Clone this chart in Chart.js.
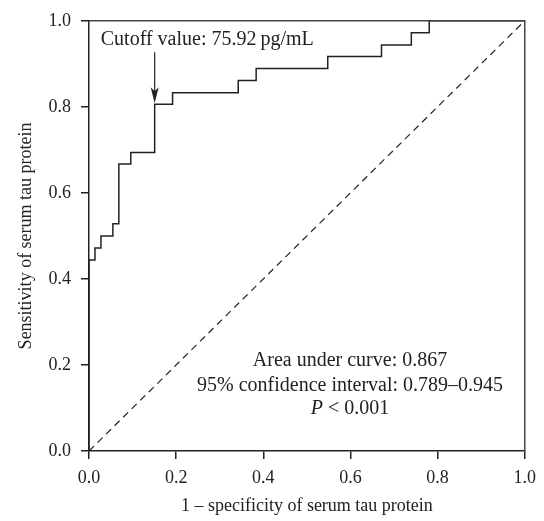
<!DOCTYPE html>
<html>
<head>
<meta charset="utf-8">
<script src="https://cdn.jsdelivr.net/npm/chart.js@4.4.1/dist/chart.umd.min.js"></script>
<style>
    html, body { margin: 0; padding: 0; background: #fff; }
    #wrap { width: 544px; height: 521px; }
</style>
</head>
<body>
<div id="wrap"><canvas id="roc"></canvas></div>
<script>
// ROC curve (1 - specificity, sensitivity)
const fpr = [0, 0, 0.0137, 0.0274, 0.0548, 0.0685, 0.0959, 0.1507, 0.1918,
             0.3425, 0.3836, 0.5479, 0.6712, 0.7397, 0.7808, 1];
const sens = [0, 0.444, 0.472, 0.500, 0.528, 0.667, 0.694, 0.806, 0.833,
              0.861, 0.889, 0.917, 0.944, 0.972, 1.0, 1.0];
const refLine = [0, 1];
const tickValues = [0, 0.2, 0.4, 0.6, 0.8, 1.0];

const cutoffX = 0.1507;
const cutoffY = 0.806;
const cutoffLabel = 'Cutoff value: 75.92\u2009pg/mL';
const statLines = ['Area under curve: 0.867', '95% confidence interval: 0.789\u20130.945'];
const pLine = ' < 0.001';

const ink = '#222';
const serif = "'Liberation Serif', 'DejaVu Serif', serif";
const noteFont = '20px ' + serif;

const rocPoints = fpr.map((x, i) => ({ x: x, y: sens[i] }));
const diagPoints = refLine.map(v => ({ x: v, y: v }));

// cadre haut/droite + annotations
const extras = {
    id: 'extras',
    afterDraw(chart) {
        const { ctx, chartArea: a, scales: { x, y } } = chart;
        ctx.save();
        ctx.strokeStyle = '#444';
        ctx.lineWidth = 1.5;
        ctx.beginPath();
        ctx.moveTo(a.left, a.top);
        ctx.lineTo(a.right, a.top);
        ctx.lineTo(a.right, a.bottom);
        ctx.stroke();

        // fleche vers le point de coupure
        const ax = x.getPixelForValue(cutoffX);
        const top = y.getPixelForValue(0.927);
        const tip = y.getPixelForValue(cutoffY) - 1;
        ctx.strokeStyle = ink;
        ctx.fillStyle = ink;
        ctx.lineWidth = 1.2;
        ctx.beginPath();
        ctx.moveTo(ax, top);
        ctx.lineTo(ax, tip - 8);
        ctx.stroke();
        ctx.beginPath();
        ctx.moveTo(ax, tip);
        ctx.lineTo(ax - 4, tip - 16);
        ctx.lineTo(ax, tip - 12);
        ctx.lineTo(ax + 4, tip - 16);
        ctx.closePath();
        ctx.fill();

        ctx.font = noteFont;
        ctx.textBaseline = 'alphabetic';
        ctx.textAlign = 'left';
        ctx.fillText(cutoffLabel, x.getPixelForValue(0.027), y.getPixelForValue(0.943));

        const cx = x.getPixelForValue(0.599);
        ctx.textAlign = 'center';
        ctx.textBaseline = 'middle';
        ctx.fillText(statLines[0], cx, y.getPixelForValue(0.209));
        ctx.fillText(statLines[1], cx, y.getPixelForValue(0.152));

        ctx.textAlign = 'left';
        ctx.font = 'italic ' + noteFont;
        const wP = ctx.measureText('P').width;
        ctx.font = noteFont;
        const wRest = ctx.measureText(pLine).width;
        const px0 = cx - (wP + wRest) / 2;
        const py = y.getPixelForValue(0.099);
        ctx.font = 'italic ' + noteFont;
        ctx.fillText('P', px0, py);
        ctx.font = noteFont;
        ctx.fillText(pLine, px0 + wP, py);
        ctx.restore();
    }
};

function axis(title, isY) {
    return {
        type: 'linear',
        min: 0,
        max: 1,
        afterBuildTicks: s => { s.ticks = tickValues.map(v => ({ value: v })); },
        afterFit: s => { if (isY) s.width = 89; else s.height = 70; },
        ticks: {
            color: ink,
            padding: isY ? 10 : 8,
            font: { family: serif, size: 18 },
            callback: v => v.toFixed(1)
        },
        grid: {
            display: true,
            drawOnChartArea: false,
            drawTicks: true,
            tickLength: 8,
            color: ink,
            lineWidth: 1.5
        },
        border: { display: true, color: ink, width: 1.5 },
        title: {
            display: true,
            text: title,
            color: ink,
            font: { family: serif, size: 18 },
            padding: isY ? { top: 15, bottom: 0 } : { top: 0, bottom: 4 }
        }
    };
}

new Chart(document.getElementById('roc'), {
    type: 'scatter',
    data: {
        datasets: [
            {
                data: rocPoints,
                showLine: true,
                stepped: true,
                borderColor: ink,
                borderWidth: 1.5,
                pointRadius: 0,
                clip: 4
            },
            {
                data: diagPoints,
                showLine: true,
                borderColor: ink,
                borderWidth: 1.2,
                borderDash: [7, 5],
                pointRadius: 0,
                clip: 4
            }
        ]
    },
    options: {
        responsive: true,
        maintainAspectRatio: false,
        animation: false,
        layout: { padding: { left: 0, right: 19, top: 15, bottom: 0 } },
        plugins: { legend: { display: false }, tooltip: { enabled: false } },
        scales: {
            x: axis('1 \u2013 specificity of serum tau protein', false),
            y: axis('Sensitivity of serum tau protein', true)
        }
    },
    plugins: [extras]
});
</script>
</body>
</html>
